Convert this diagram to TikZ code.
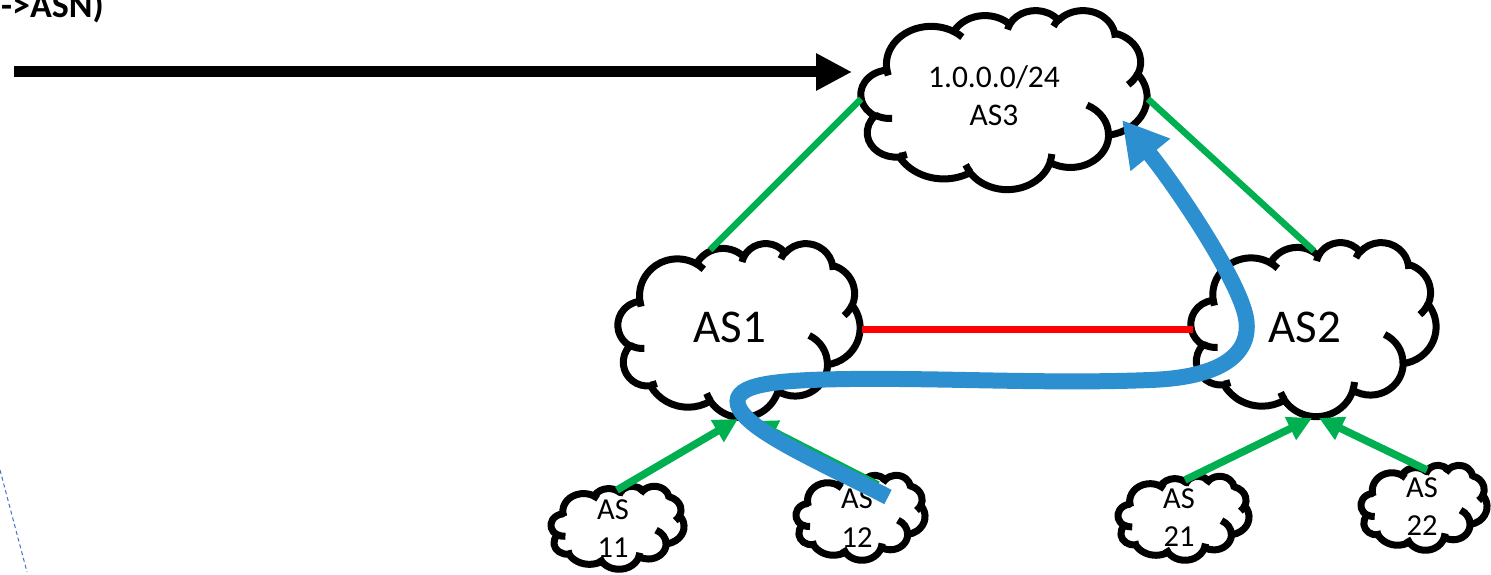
\documentclass[tikz,border=0pt]{standalone}
\usepackage{fontspec}
\setmainfont{Carlito}
\usetikzlibrary{arrows.meta}
\definecolor{pgreen}{RGB}{0,176,80}
\definecolor{pblue}{RGB}{43,143,208}
\definecolor{dblue}{RGB}{68,114,196}
\definecolor{pred}{RGB}{255,0,0}

% --- PowerPoint-like cloud outline (preset geometry, visual angles) ---
\newcommand\cldmove[2]{%
  \pgfmathsetmacro\cldX{\cldcx+(#1-216)*\cldsx}%
  \pgfmathsetmacro\cldY{\cldcy+(#2-216)*\cldsy}%
  \xdef\cldpath{\cldpath (\cldX,\cldY)}}
\newcommand\cldseg[4]{%
  \pgfmathsetmacro\cldrx{#1*\cldsx}%
  \pgfmathsetmacro\cldry{#2*\cldsy}%
  \pgfmathsetmacro\clda{-atan2(#1*sin(#3),#2*cos(#3))}%
  \pgfmathsetmacro\cldb{-atan2(#1*sin(#3+#4),#2*cos(#3+#4))}%
  \pgfmathsetmacro\cldb{\cldb-360*(\cldb>\clda)}%
  \xdef\cldpath{\cldpath arc[x radius=\cldrx pt,y radius=\cldry pt,start angle=\clda,end angle=\cldb]}}
\newcommand\drawcloud[4]{%
  \def\cldcx{#1}\def\cldcy{#2}%
  \pgfmathsetmacro\cldsx{#3/432}\pgfmathsetmacro\cldsy{#4/432}%
  \gdef\cldpath{}%
  \cldmove{39.00}{143.70}%
  \cldseg{67.53}{91.90}{-190.4875}{123.7805}%
  \cldseg{53.33}{72.67}{-144.1024}{89.9452}%
  \cldseg{43.65}{59.45}{-145.8079}{99.7230}%
  \cldseg{48.57}{65.95}{-130.9861}{117.2417}%
  \cldseg{53.33}{72.73}{-78.7089}{109.0269}%
  \cldseg{67.75}{92.20}{-46.2673}{130.2690}%
  \cldseg{57.85}{78.67}{0.6250}{114.0333}%
  \cldseg{67.52}{92.15}{22.4516}{115.1726}%
  \cldseg{77.20}{105.43}{66.2426}{75.7110}%
  \cldseg{43.60}{59.18}{-274.9421}{146.7356}%
  \cldseg{43.45}{59.45}{-246.8285}{152.5189}%
  \xdef\cldpath{\cldpath -- cycle}%
  \path[cloudline] \cldpath;%
  \gdef\cldpath{}%
  \cldmove{46.93}{261.77}\cldseg{43.45}{59.45}{86.7420}{26.4295}%
  \cldmove{69.28}{348.99}\cldseg{43.60}{59.18}{73.6105}{11.4475}%
  \cldmove{164.78}{390.90}\cldseg{67.52}{92.15}{137.6242}{14.0811}%
  \cldmove{288.27}{347.51}\cldseg{67.52}{92.15}{6.4533}{15.9984}%
  \cldmove{341.29}{229.54}\cldseg{57.85}{78.67}{-70.2924}{70.9174}%
  \cldmove{417.98}{153.54}\cldseg{53.33}{72.73}{30.3180}{27.7515}%
  \cldmove{383.24}{54.26}\cldseg{48.57}{65.95}{-13.7443}{14.8589}%
  \cldmove{290.78}{39.52}\cldseg{48.57}{65.95}{-149.1815}{18.1954}%
  \cldmove{221.41}{47.20}\cldseg{43.65}{59.45}{-163.4943}{17.6864}%
  \cldmove{140.00}{51.92}\cldseg{67.53}{91.90}{-66.7070}{12.3194}%
  \cldmove{41.27}{157.89}\cldseg{67.53}{91.90}{157.6544}{11.8605}%
  \path[cloudinner] \cldpath;%
}

\begin{document}
\begin{tikzpicture}[x=1pt,y=-1pt,
  cloudline/.style={fill=white,draw=black,line width=7pt,line join=round},
  cloudinner/.style={draw=black,line width=7pt},
  biglbl/.style={inner sep=0pt,font=\fontsize{47}{56}\selectfont},
  smalllbl/.style={inner sep=0pt,align=center,font=\fontsize{30.5}{38.5}\selectfont},
  as3lbl/.style={inner sep=0pt,align=center,font=\fontsize{31.5}{38}\selectfont},
  titlelbl/.style={inner sep=0pt,font=\fontsize{36}{43}\selectfont\bfseries},
  link/.style={draw=pgreen,line width=6.5pt},
  uplink/.style={draw=pgreen,line width=7.5pt,-{Triangle[length=24pt,width=24pt]}},
  peer/.style={draw=pred,line width=7pt},
  route/.style={draw=pblue,line width=16pt,-{Triangle[length=45pt,width=48pt]}},
  bigarrow/.style={draw=black,line width=11pt,-{Triangle[length=36pt,width=35pt]}},
  guide/.style={draw=dblue,line width=1pt,dash pattern=on 4pt off 3pt}]
\useasboundingbox (0,0) rectangle (1491,575);

% clouds
\drawcloud{1004}{99.5}{286}{179}
\drawcloud{739}{330}{242}{174}
\drawcloud{1313.5}{329}{245}{174}
\drawcloud{617.5}{527.5}{133}{83}
\drawcloud{860.5}{517.5}{129}{85}
\drawcloud{1183.5}{518}{131}{84}
\drawcloud{1424}{507.5}{126}{85}

% labels
\node[titlelbl,anchor=base east] (title) at (104,18) {->ASN)};
\node[as3lbl] (as3) at (994,95.5) {1.0.0.0/24\\AS3};
\node[biglbl] (as1) at (730,327) {AS1};
\node[biglbl] (as2) at (1305,327) {AS2};
\node[smalllbl] (as11) at (613,528.5) {AS\\11};
\node[smalllbl] (as12) at (857,518) {AS\\12};
\node[smalllbl] (as21) at (1179,517.5) {AS\\21};
\node[smalllbl] (as22) at (1422,506.5) {AS\\22};

% attachment points
\coordinate (as1n) at (710,250);
\coordinate (as3w) at (861,99);
\coordinate (as3e) at (1148,99);
\coordinate (as2n) at (1314,251);
\coordinate (as1e) at (862,329);
\coordinate (as2w) at (1193,329);
\coordinate (as1s1) at (738,419);
\coordinate (as1s2) at (753,421);
\coordinate (as2s1) at (1312,418);
\coordinate (as2s2) at (1319,418);
\coordinate (as11n) at (617,490);
\coordinate (as12n) at (878,485);
\coordinate (as21n) at (1185,480);
\coordinate (as22n) at (1427,470);
\coordinate (arrstart) at (14,72);
\coordinate (as3tip) at (852,72);
\coordinate (routestart) at (888,497);
\coordinate (routeend) at (1122,120);
\coordinate (guidea) at (0,470);
\coordinate (guideb) at (27,572);

% links
\draw[link] (as1n) -- (as3w);
\draw[link] (as3e) -- (as2n);
\draw[peer] (as1e) -- (as2w);
\draw[uplink] (as11n) -- (as1s1);
\draw[uplink] (as12n) -- (as1s2);
\draw[uplink] (as21n) -- (as2s1);
\draw[uplink] (as22n) -- (as2s2);
\draw[bigarrow] (arrstart) -- (as3tip);
\draw[guide] (guidea) -- (guideb);

% route
\draw[route] (routestart) .. controls (820,462) and (745,430) .. (738,405)
  .. controls (732,383) and (780,380) .. (850,379)
  .. controls (950,378) and (1050,384) .. (1150,380)
  .. controls (1235,377) and (1255,345) .. (1244,310)
  .. controls (1232,270) and (1175,185) .. (routeend);
\end{tikzpicture}
\end{document}
